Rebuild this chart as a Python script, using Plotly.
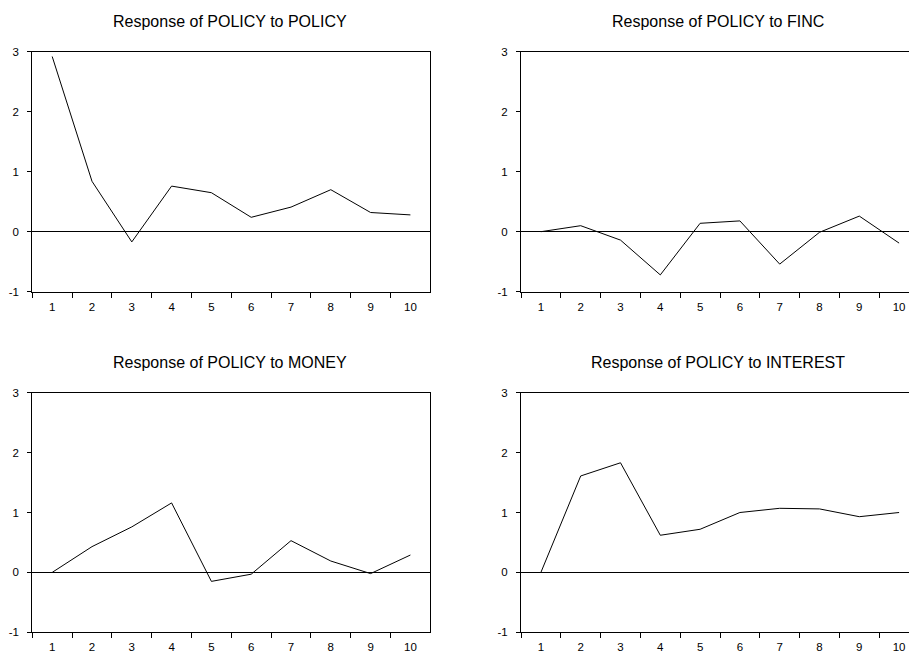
import plotly.graph_objects as go

periods = ["1", "2", "3", "4", "5", "6", "7", "8", "9", "10"]
resp_policy = [2.92, 0.84, -0.17, 0.76, 0.65, 0.24, 0.41, 0.70, 0.32, 0.28]
resp_finc = [0.0, 0.10, -0.14, -0.72, 0.14, 0.18, -0.54, -0.01, 0.26, -0.19]
resp_money = [0.0, 0.43, 0.76, 1.16, -0.15, -0.03, 0.53, 0.19, -0.02, 0.29]
resp_interest = [0.0, 1.61, 1.83, 0.62, 0.72, 1.00, 1.07, 1.06, 0.93, 1.00]
titles = ["Response of POLICY to POLICY", "Response of POLICY to FINC",
          "Response of POLICY to MONEY", "Response of POLICY to INTEREST"]
y_ticks = [-1, 0, 1, 2, 3]
y_tick_labels = ["-1", "0", "1", "2", "3"]

W, H = 909, 652
series = [resp_policy, resp_finc, resp_money, resp_interest]

# panel geometry in pixels: (left, right, top, bottom)
panels = [(32.3, 430, 51.7, 291.7), (521, 909, 51.7, 291.7),
          (32.3, 430, 392.7, 632.3), (521, 909, 392.7, 632.3)]
cell = 39.8

fig = go.Figure()
font = "Liberation Sans, Arial, sans-serif"
for i, (vals, (l, r, t, b)) in enumerate(zip(series, panels)):
    k = "" if i == 0 else str(i + 1)
    fig.add_trace(go.Scatter(x=periods, y=vals, mode="lines",
                             line=dict(color="black", width=1),
                             xaxis="x" + k, yaxis="y" + k, showlegend=False,
                             hoverinfo="skip"))
    right_cut = r >= W - 1
    xmax = -0.5 + (r - l) / cell
    fig.update_layout(**{
        "xaxis" + k: dict(domain=[l / W, min(r / W, 1.0)], type="category",
                          range=[-0.5, xmax], tickson="boundaries",
                          ticks="outside", ticklen=5, tickcolor="black",
                          showline=True, linecolor="black", linewidth=1,
                          mirror=True, showgrid=False, zeroline=False,
                          anchor="y" + k, fixedrange=True, automargin=False,
                          ticklabelstandoff=4,
                          tickfont=dict(family=font, size=11.5, color="black")),
        "yaxis" + k: dict(domain=[(H - b) / H, (H - t) / H], range=[-1, 3],
                          tickvals=y_ticks, ticktext=y_tick_labels,
                          ticks="outside", ticklen=4,
                          tickcolor="black", showline=True, linecolor="black",
                          linewidth=1, mirror=(False if right_cut else True),
                          showgrid=False, zeroline=True, zerolinecolor="black",
                          zerolinewidth=1, anchor="x" + k, fixedrange=True,
                          ticklabelstandoff=6, automargin=False,
                          tickfont=dict(family=font, size=11.5, color="black")),
    })

title_pos = [(230, 21.7), (718, 21.7), (230, 362.3), (718, 362.3)]
for txt, (x, y) in zip(titles, title_pos):
    fig.add_annotation(text=txt, x=x / W, y=(H - y) / H, xref="paper",
                       yref="paper", showarrow=False, xanchor="center",
                       yanchor="middle",
                       font=dict(family=font, size=16, color="black"))

fig.update_layout(width=W, height=H, margin=dict(l=0, r=0, t=0, b=0, autoexpand=False),
                  paper_bgcolor="white", plot_bgcolor="white")
fig.write_html("out.html", config={"displayModeBar": False},
               post_script="document.body.style.margin='0';document.body.style.overflow='hidden';")
